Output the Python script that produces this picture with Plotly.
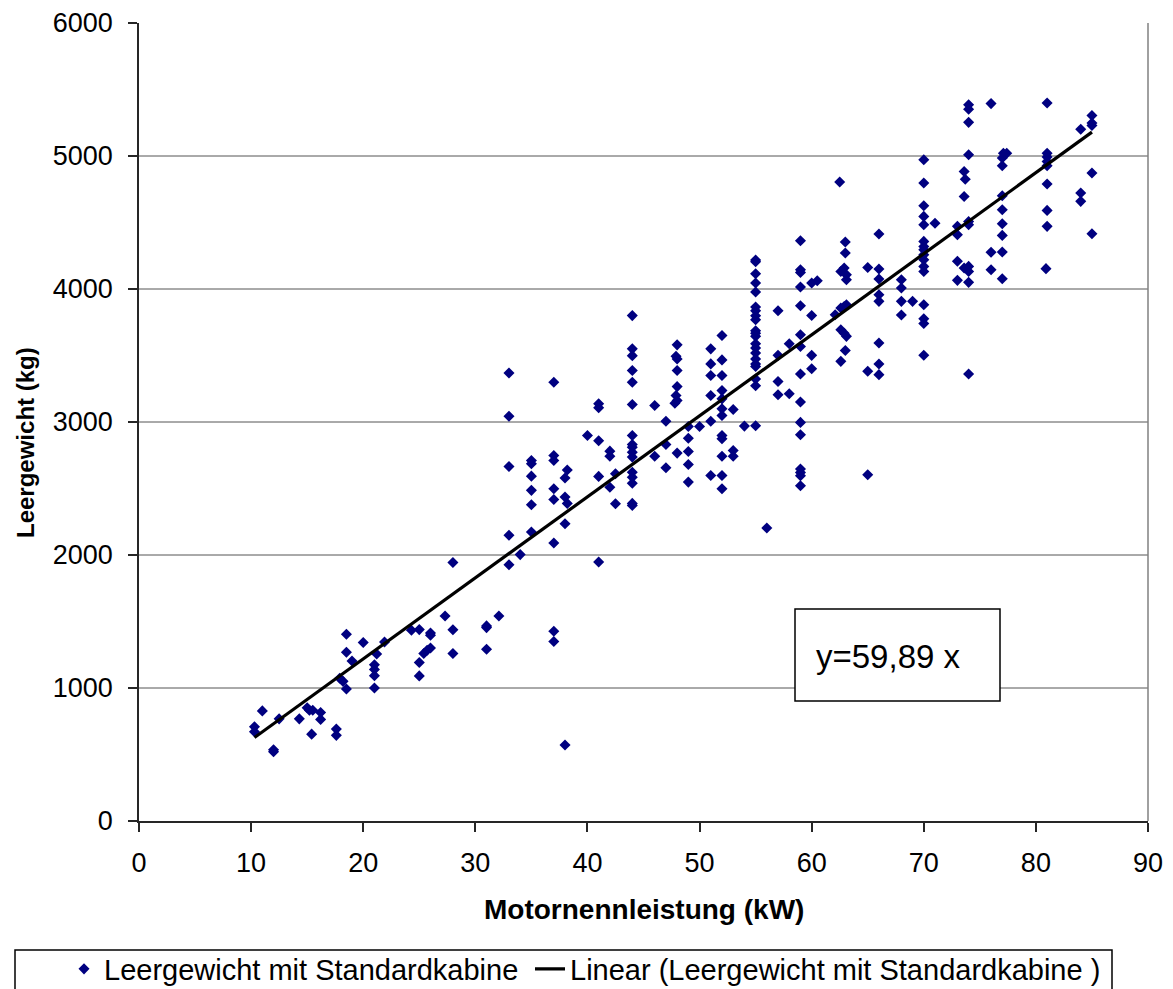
import numpy as np
import plotly.graph_objects as go

# ---- data ----
# Motornennleistung (kW)
power_kw = [
    10.3, 10.3, 11.0, 12.0, 12.0, 12.5, 14.3, 15.0, 15.2, 15.5, 15.4, 16.2, 16.2, 17.6, 17.6,
    17.9, 18.2, 18.5, 18.5, 18.5, 19.0, 20.0, 21.0, 21.0, 21.0, 21.0, 21.2, 21.9,
    24.3, 25.0, 26.0, 26.0, 25.0, 25.0, 25.4, 25.7, 26.0, 27.3, 28.0, 28.0, 28.0,
    31.0, 31.0, 31.0, 32.1,
    33.0, 33.0, 33.0, 33.0, 33.0, 34.0,
    35.0, 35.0, 35.0, 35.0, 35.0, 35.0,
    37.0, 37.0, 37.0, 37.0, 37.0, 37.0, 37.0, 37.0,
    38.2, 38.0, 38.0, 38.2, 38.0, 38.0,
    40.0, 41.0, 41.0, 41.0, 41.0, 41.0, 42.0, 42.0, 42.0, 42.5, 42.5,
    44.0, 44.0, 44.0, 44.0, 44.0, 44.0, 44.0, 44.0, 44.0, 44.0, 44.0, 44.0, 44.0, 44.0, 44.0, 44.0,
    46.0, 46.0, 47.0, 47.0, 47.0,
    48.0, 47.9, 48.0, 48.0, 48.0, 47.9, 48.0, 47.8, 48.0,
    49.0, 49.0, 49.0, 49.0, 49.0, 50.0,
    51.0, 51.0, 51.0, 51.0, 51.0, 51.0,
    52.0, 52.0, 52.0, 52.0, 52.0, 52.0, 52.0, 52.0, 52.0, 52.0, 52.0, 52.0,
    53.0, 53.0, 53.0, 54.0,
    55.0, 55.0, 55.0, 55.0, 55.0, 55.0, 55.0, 55.0, 55.0, 55.0, 55.0,
    55.0, 55.0, 55.0, 55.0, 55.0, 55.0, 55.0, 55.0, 55.0, 55.0,
    56.0, 57.0, 57.0, 57.0, 57.0, 58.0, 58.0,
    59.0, 59.0, 59.0, 59.0, 59.0, 59.0, 59.0, 59.0, 59.0, 59.0, 59.0, 59.0, 59.0, 59.0, 59.0,
    60.0, 60.5, 60.0, 60.0, 60.0,
    62.1, 62.6, 62.9, 63.1, 63.1, 62.6, 62.9, 63.1, 62.6, 62.9, 63.1, 62.6, 62.5,
    63.0, 63.0, 63.0,
    65.0, 65.0, 65.0,
    66.0, 66.0, 66.0, 66.0, 66.0, 66.0, 66.0, 66.0,
    68.0, 68.0, 68.0, 68.0, 69.0,
    70.0, 70.0, 70.0, 70.0, 70.0, 70.0, 70.0, 70.0, 70.0, 70.0, 70.0, 70.0, 70.0, 70.0, 70.0, 70.0,
    71.0,
    73.0, 73.0, 73.0, 73.0, 73.6, 73.7, 73.6, 73.6,
    74.0, 74.0, 74.0, 74.0, 74.0, 74.0, 74.0, 74.0, 74.0, 74.0,
    76.0, 76.0, 76.0,
    77.1, 77.4, 77.0, 77.0, 77.0, 77.0, 77.0, 77.0, 77.0, 77.0,
    81.0, 81.0, 81.0, 81.0, 81.0, 81.0, 81.0, 81.0, 80.9,
    84.0, 84.0, 84.0,
    85.0, 85.0, 85.0, 85.0, 85.0,
]

# Leergewicht (kg)
weight_kg = [
    708, 671, 828, 535, 520, 768, 768, 851, 833, 833, 653, 816, 764, 691, 644,
    1074, 1050, 993, 1404, 1269, 1203, 1342, 1175, 1140, 1093, 1000, 1256, 1346,
    1434, 1439, 1414, 1397, 1192, 1091, 1259, 1284, 1301, 1542, 1943, 1438, 1259,
    1467, 1454, 1292, 1542,
    3369, 3043, 2666, 2148, 1926, 2003,
    2711, 2686, 2593, 2486, 2378, 2173,
    3299, 2748, 2711, 2498, 2418, 2090, 1426, 1350,
    2639, 2579, 2436, 2388, 2235, 571,
    2899, 3137, 3107, 2859, 2591, 1947, 2781, 2743, 2510, 2611, 2386,
    3800, 3550, 3499, 3387, 3299, 3131, 2899, 2831, 2811, 2773, 2736, 2622, 2585, 2540, 2388, 2373,
    3124, 2743, 3006, 2831, 2656,
    3580, 3494, 3474, 3387, 3266, 3199, 3161, 3141, 2766,
    2966, 2878, 2778, 2681, 2548, 2966,
    3550, 3437, 3349, 3199, 3006, 2598,
    3650, 3467, 3349, 3236, 3174, 3099, 3049, 2899, 2874, 2743, 2598, 2498,
    3094, 2786, 2743, 2969,
    4218, 4205, 4115, 4045, 3977, 3865, 3837, 3799, 3769, 3686, 3667,
    3644, 3589, 3556, 3519, 3474, 3436, 3418, 3323, 3273, 2972,
    2203, 3837, 3501, 3305, 3205, 3589, 3213,
    4363, 4145, 4124, 4015, 3874, 3656, 3568, 3361, 3150, 2997, 2904, 2647, 2621, 2596, 2521,
    4045, 4062, 3801, 3501, 3401,
    3807, 4132, 4158, 4107, 4070, 3857, 3869, 3882, 3694, 3667, 3644, 3456, 4805,
    4353, 4271, 3538,
    4162, 3381, 2604,
    4413, 4150, 4075, 3957, 3907, 3594, 3436, 3356,
    4070, 4008, 3907, 3804, 3907,
    4972, 4797, 4626, 4546, 4483, 4358, 4320, 4295, 4258, 4220, 4170, 4132, 3882, 3777, 3740, 3502,
    4494,
    4471, 4408, 4208, 4065, 4884, 4825, 4696, 4158,
    5386, 5351, 5253, 5009, 4508, 4483, 4170, 4132, 4050, 3361,
    5394, 4276, 4145,
    5020, 5020, 4985, 4927, 4701, 4596, 4491, 4403, 4278, 4077,
    5399, 5020, 4992, 4959, 4927, 4790, 4591, 4471, 4153,
    5201, 4722, 4659,
    5305, 5248, 5230, 4872, 4416,
]

x_ticks = [0, 10, 20, 30, 40, 50, 60, 70, 80, 90]
y_ticks = [0, 1000, 2000, 3000, 4000, 5000, 6000]
series_name = "Leergewicht mit Standardkabine"
trend_name = "Linear (Leergewicht mit Standardkabine )"
equation_text = "y=59,89 x"

# ---- linear trend through origin, fitted to the data ----
xa = np.array(power_kw, dtype=float)
ya = np.array(weight_kg, dtype=float)
slope = float((xa * ya).sum() / (xa * xa).sum())
trend_x = [xa.min(), xa.max()]
trend_y = [slope * v for v in trend_x]

# the page body adds an 8px margin, so the figure is 8px smaller than the window
OFF = 8
W, H = 1173 - OFF, 989 - OFF
ML, MT = 139 - OFF, 23 - OFF
MR = 1173 - 1148
MB = 989 - 821
pw, ph = W - ML - MR, H - MT - MB


def px_x(p):  # page pixel -> paper x
    return (p - OFF - ML) / pw


def px_y(p):  # page pixel -> paper y
    return (H - MB - (p - OFF)) / ph


FONT = "Liberation Sans, Arial, sans-serif"
AX = "#262626"

fig = go.Figure()
fig.add_trace(go.Scatter(
    x=power_kw, y=weight_kg, mode="markers", name=series_name, legend="legend",
    marker=dict(symbol="diamond", size=8.5, color="#000080", line=dict(width=0)),
))
fig.add_trace(go.Scatter(
    x=trend_x, y=trend_y, mode="lines", name=trend_name, legend="legend2",
    line=dict(color="black", width=3.2),
))

shapes = []
for v in y_ticks[1:-1]:
    shapes.append(dict(type="line", xref="paper", yref="y", x0=0, x1=1, y0=v, y1=v,
                       line=dict(color="#555555", width=1), layer="below"))
# right border of plot area
shapes.append(dict(type="line", xref="paper", yref="paper", x0=1, x1=1, y0=0, y1=1,
                   line=dict(color="#808080", width=1.5), layer="below"))
# equation text box
shapes.append(dict(type="rect", xref="paper", yref="paper",
                   x0=px_x(795), x1=px_x(1000), y0=px_y(701), y1=px_y(609),
                   line=dict(color="black", width=1.5), fillcolor="white", layer="above"))
# legend frame
shapes.append(dict(type="rect", xref="paper", yref="paper",
                   x0=px_x(15), x1=px_x(1112), y0=px_y(1000), y1=px_y(950),
                   line=dict(color="black", width=1.5), fillcolor="rgba(0,0,0,0)", layer="above"))

annotations = [
    dict(text=equation_text, xref="paper", yref="paper", x=px_x(814), y=px_y(656),
         xanchor="left", yanchor="middle", showarrow=False,
         font=dict(family=FONT, size=33, color="black")),
    dict(text="<b>Motornennleistung (kW)</b>", xref="paper", yref="paper",
         x=px_x(644), y=px_y(909), xanchor="center", yanchor="middle", showarrow=False,
         font=dict(family=FONT, size=28, color="black")),
    dict(text="<b>Leergewicht (kg)</b>", xref="paper", yref="paper",
         x=px_x(25), y=px_y(443), xanchor="center", yanchor="middle", showarrow=False,
         textangle=-90, font=dict(family=FONT, size=24, color="black")),
]

legend_common = dict(orientation="h", yanchor="middle", y=px_y(969),
                     bgcolor="rgba(0,0,0,0)", borderwidth=0,
                     font=dict(family=FONT, size=29, color="black"))

fig.update_layout(
    width=W, height=H,
    margin=dict(l=ML, r=MR, t=MT, b=MB, autoexpand=False),
    paper_bgcolor="white", plot_bgcolor="white",
    font=dict(family=FONT, size=27, color="black"),
    shapes=shapes, annotations=annotations,
    showlegend=True,
    legend=dict(x=px_x(64), xanchor="left", **legend_common),
    legend2=dict(x=px_x(530), xanchor="left", **legend_common),
    xaxis=dict(range=[0, 90], tickvals=x_ticks, showgrid=False, zeroline=False,
               showline=True, linecolor=AX, linewidth=1.5,
               ticks="outside", ticklen=9, tickcolor=AX, tickwidth=1.5,
               ticklabelstandoff=8,
               tickfont=dict(family=FONT, size=27, color="black")),
    yaxis=dict(range=[0, 6000], tickvals=y_ticks, showgrid=False, zeroline=False,
               showline=True, linecolor=AX, linewidth=1.5,
               ticks="outside", ticklen=9, tickcolor=AX, tickwidth=1.5,
               ticklabelstandoff=10,
               tickfont=dict(family=FONT, size=27, color="black")),
)

fig.write_html("out.html")
